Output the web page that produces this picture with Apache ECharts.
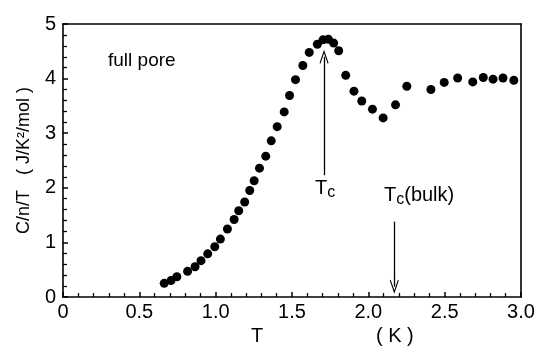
<!DOCTYPE html>
<html>
<head>
<meta charset="utf-8">
<script src="https://cdn.jsdelivr.net/npm/echarts@6/dist/echarts.min.js"></script>
<style>
    html, body { margin: 0; padding: 0; background: #fff; }
    #chart { width: 541px; height: 349px; }
</style>
</head>
<body>
<div id="chart"></div>
<script>
    // temperature (K) and C/n/T (J/K^2/mol)
    var temps = [0.663, 0.707, 0.746, 0.816, 0.865, 0.904, 0.948, 0.994, 1.031, 1.077,
        1.121, 1.151, 1.19, 1.223, 1.252, 1.287, 1.328, 1.364, 1.403, 1.449,
        1.484, 1.523, 1.571, 1.613, 1.666, 1.703, 1.738, 1.773, 1.806, 1.852,
        1.906, 1.957, 2.027, 2.097, 2.178, 2.252, 2.41, 2.497, 2.585, 2.684,
        2.753, 2.817, 2.882, 2.953];
    var cnt = [0.25, 0.30, 0.37, 0.47, 0.555, 0.665, 0.79, 0.92, 1.06, 1.245,
        1.42, 1.58, 1.74, 1.95, 2.13, 2.36, 2.58, 2.86, 3.12, 3.39,
        3.69, 3.98, 4.24, 4.48, 4.63, 4.71, 4.72, 4.65, 4.51, 4.06,
        3.77, 3.59, 3.44, 3.28, 3.52, 3.86, 3.80, 3.93, 4.01, 3.94,
        4.02, 3.99, 4.01, 3.97];
    var xTickLabels = {0: '0', 0.5: '0.5', 1: '1.0', 1.5: '1.5', 2: '2.0', 2.5: '2.5', 3: '3.0'};

    // arrows: Tc of pore and bulk Tc
    var tcArrow = [[1.71, 2.23], [1.71, 4.40]];
    var tcBulkArrow = [[2.17, 1.38], [2.17, 0.19]];

    var myChart = echarts.init(document.getElementById('chart'));
    var font = 'Liberation Sans';
    var ink = '#000';
    var openArrow = 'path://M0,10 L5,0 L10,10 L9,10.6 L5,2.6 L1,10.6 Z';

    var lineStyle = { color: ink, width: 1.6 };

    // plain frame axes for the top and right edges of the box
    function frameAxis(pos, min, max) {
        return {
            type: 'value', position: pos, min: min, max: max,
            axisLine: { show: true, onZero: false, lineStyle: lineStyle },
            axisTick: { show: false },
            axisLabel: { show: false },
            splitLine: { show: false }
        };
    }

    var option = {
        backgroundColor: '#fff',
        animation: false,
        textStyle: { fontFamily: font, color: ink },
        grid: {
            left: 63, right: 20, top: 24, bottom: 52
        },
        xAxis: [{
            type: 'value',
            position: 'bottom',
            min: 0, max: 3, interval: 0.5,
            axisLine: { show: true, onZero: false, lineStyle: lineStyle },
            axisTick: { show: true, inside: true, length: 5, lineStyle: { color: ink, width: 1.5 } },
            minorTick: { show: true, splitNumber: 5, length: 4, lineStyle: { color: ink, width: 1.3 } },
            splitLine: { show: false },
            axisLabel: {
                fontSize: 20, color: ink, margin: 5, fontFamily: font,
                formatter: function (v) { return xTickLabels[v] !== undefined ? xTickLabels[v] : ''; }
            }
        }, frameAxis('top', 0, 3)],
        yAxis: [{
            type: 'value',
            position: 'left',
            min: 0, max: 5, interval: 1,
            name: 'C/n/T   ( J/K²/mol )',
            nameLocation: 'middle',
            nameRotate: 90,
            nameGap: 30,
            nameTextStyle: { fontSize: 18, color: ink, fontFamily: font },
            axisLine: { show: true, onZero: false, lineStyle: lineStyle },
            axisTick: { show: true, inside: true, length: 5, lineStyle: { color: ink, width: 1.5 } },
            minorTick: { show: true, splitNumber: 5, length: 4, lineStyle: { color: ink, width: 1.3 } },
            splitLine: { show: false },
            axisLabel: { fontSize: 20, color: ink, margin: 7, fontFamily: font }
        }, frameAxis('right', 0, 5)],
        graphic: [
            { type: 'text', left: 108, top: 51, style: { text: 'full pore', fontSize: 19, fill: ink, fontFamily: font } },
            { type: 'text', left: 251, top: 326, style: { text: 'T', fontSize: 20, fill: ink, fontFamily: font } },
            { type: 'text', left: 376, top: 326, style: { text: '( K )', fontSize: 20, fill: ink, fontFamily: font } },
            {
                type: 'text', left: 315, top: 178,
                style: {
                    text: '{t|T}{s|c}', fill: ink, fontFamily: font,
                    rich: { t: { fontSize: 20 }, s: { fontSize: 16, padding: [9, 0, 0, 0] } }
                }
            },
            {
                type: 'text', left: 384, top: 185,
                style: {
                    text: '{t|T}{s|c}{t|(bulk)}', fill: ink, fontFamily: font,
                    rich: { t: { fontSize: 20 }, s: { fontSize: 16, padding: [9, 0, 0, 0] } }
                }
            }
        ],
        series: [{
            name: 'full pore',
            type: 'scatter',
            xAxisIndex: 0,
            yAxisIndex: 0,
            symbol: 'circle',
            symbolSize: 9,
            itemStyle: { color: ink, opacity: 1 },
            data: temps.map(function (t, i) { return [t, cnt[i]]; }),
            markLine: {
                silent: true,
                symbol: ['none', openArrow],
                symbolSize: [9, 14],
                label: { show: false },
                lineStyle: { color: ink, width: 1.3, type: 'solid' },
                data: [
                    [{ coord: tcArrow[0] }, { coord: tcArrow[1] }],
                    [{ coord: tcBulkArrow[0] }, { coord: tcBulkArrow[1] }]
                ]
            }
        }]
    };

    myChart.setOption(option);
    window.addEventListener('resize', function () {
        myChart.resize();
    });
</script>
</body>
</html>
